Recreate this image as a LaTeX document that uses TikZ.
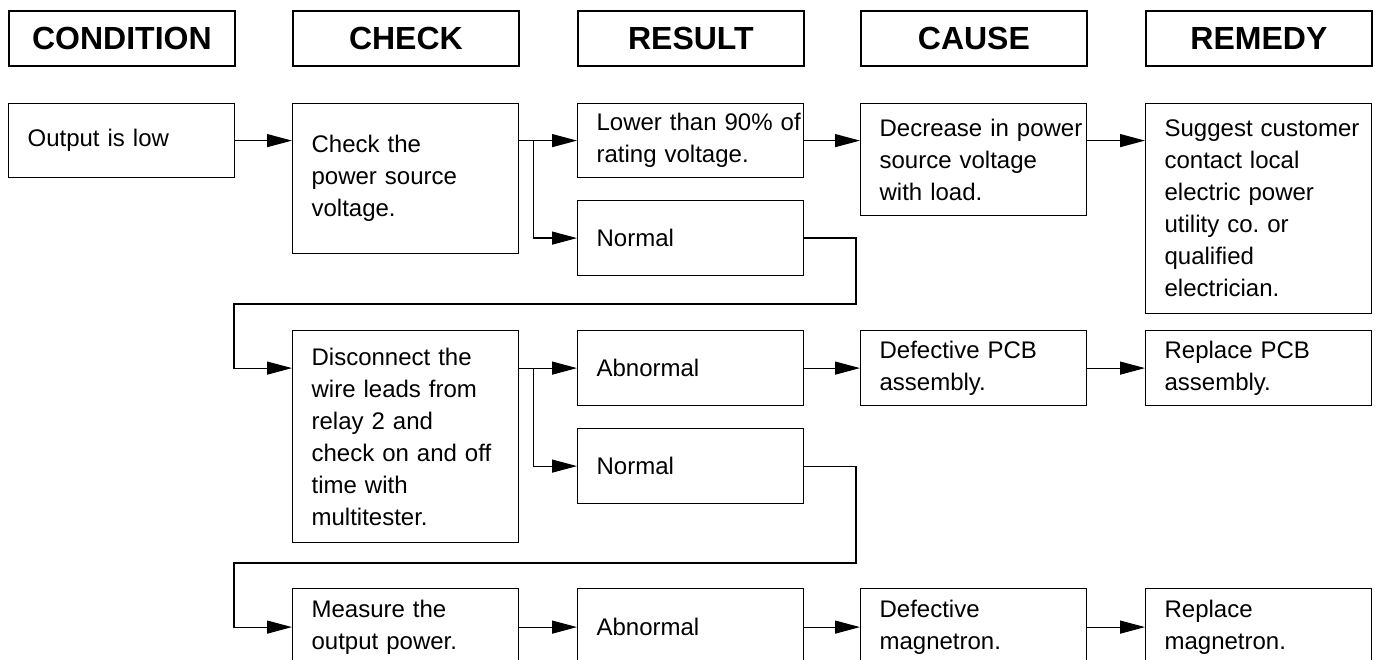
\documentclass[tikz,border=0pt]{standalone}
\usepackage{fontspec}
\setmainfont{Liberation Sans}
\usepackage{tikz}
\usetikzlibrary{arrows.meta,positioning,calc}
\frenchspacing

\begin{document}
\begin{tikzpicture}[x=1pt,y=-1pt,
  hdr/.style={draw, line width=1.8pt, anchor=north west, minimum width=226pt, minimum height=55pt, font=\bfseries\fontsize{32}{38}\selectfont},
  box/.style={draw, line width=1.2pt, anchor=north west, minimum width=226pt, text width=188pt, inner xsep=19pt, align=left, font=\fontsize{24}{32}\selectfont},
  arr/.style={-{Triangle[length=25pt,width=13pt]}, line width=1.2pt}
]
% Column positions
\def\ca{8} \def\cb{292} \def\cc{577} \def\cd{860} \def\ce{1145}

\useasboundingbox (0,0) rectangle (1375,660);
\fill[white] (0,0) rectangle (1375,660);
\clip (0,0) rectangle (1375,660);

% Headers
\node[hdr] (hcon) at (\ca,10) {CONDITION};
\node[hdr] (hchk) at (\cb,10) {CHECK};
\node[hdr] (hres) at (\cc,10) {RESULT};
\node[hdr] (hcau) at (\cd,10) {CAUSE};
\node[hdr] (hrem) at (\ce,10) {REMEDY};

% Row 1
\node[box, minimum height=74pt] (out1) at (\ca,103) {Output is low};
\node[box, minimum height=150pt] (chk1) at (\cb,103) {Check the\\power source\\voltage.};
\node[box, minimum height=74pt] (low1) at (\cc,103) {\mbox{Lower than 90\% of}\\rating voltage.};
\node[box, minimum height=75pt] (nrm1) at (\cc,200) {Normal};
\node[box, minimum height=112pt] (cau1) at (\cd,103) {\mbox{Decrease in power}\\source voltage\\with load.};
\node[box, minimum height=210pt] (rem1) at (\ce,103) {\mbox{Suggest customer}\\contact local\\electric power\\utility co. or\\qualified\\electrician.};

% Row 2
\node[box, minimum height=212pt] (chk2) at (\cb,330) {Disconnect the\\wire leads from\\relay 2 and\\check on and off\\time with\\multitester.};
\node[box, minimum height=75pt] (abn2) at (\cc,330) {Abnormal};
\node[box, minimum height=75pt] (nrm2) at (\cc,428) {Normal};
\node[box, minimum height=75pt] (cau2) at (\cd,330) {Defective PCB\\assembly.};
\node[box, minimum height=75pt] (rem2) at (\ce,330) {Replace PCB\\assembly.};

% Row 3
\node[box, minimum height=77pt] (chk3) at (\cb,588) {Measure the\\output power.};
\node[box, minimum height=77pt] (abn3) at (\cc,588) {Abnormal};
\node[box, minimum height=77pt] (cau3) at (\cd,588) {Defective\\magnetron.};
\node[box, minimum height=77pt] (rem3) at (\ce,588) {Replace\\magnetron.};

% Junctions and turns
\coordinate (j1) at ($(chk1.east |- low1.west)+(14,0)$);
\coordinate (j2) at ($(chk2.east |- abn2.west)+(14,0)$);
\coordinate (t1a) at (856,304); \coordinate (t1b) at (234,304);
\coordinate (t2a) at (856,563); \coordinate (t2b) at (234,563);

% Connectors
\draw[arr] (out1.east) -- (out1.east -| chk1.west);
\draw[arr] (low1.west -| chk1.east) -- (low1.west);
\draw[arr] (j1) |- (nrm1.west);
\draw[arr] (low1.east) -- (low1.east -| cau1.west);
\draw[arr] (cau1.east |- low1.east) -- (rem1.west |- low1.east);
\draw[arr] (nrm1.east) -| (t1a) -- (t1b) |- (chk2.west |- abn2.west);

\draw[arr] (abn2.west -| chk2.east) -- (abn2.west);
\draw[arr] (j2) |- (nrm2.west);
\draw[arr] (abn2.east) -- (cau2.west);
\draw[arr] (cau2.east) -- (rem2.west);
\draw[arr] (nrm2.east) -| (t2a) -- (t2b) |- (chk3.west);

\draw[arr] (chk3.east) -- (abn3.west);
\draw[arr] (abn3.east) -- (cau3.west);
\draw[arr] (cau3.east) -- (rem3.west);
\end{tikzpicture}
\end{document}
